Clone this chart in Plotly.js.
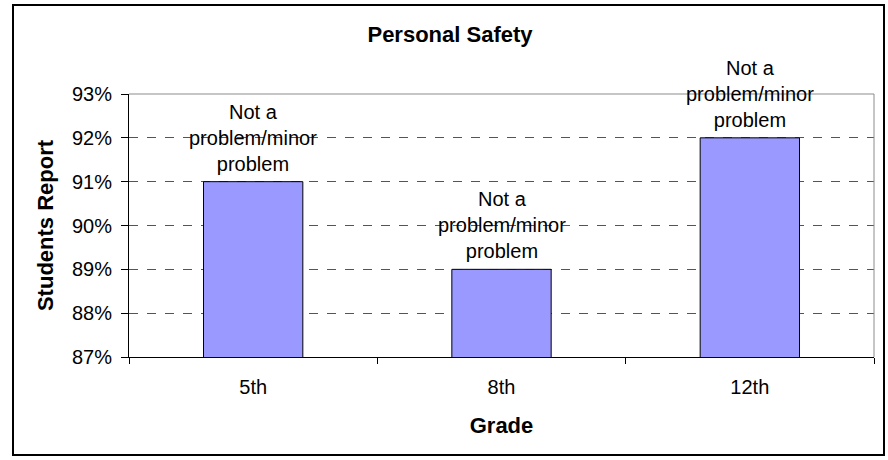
<!DOCTYPE html>
<html>
<head>
<meta charset="utf-8">
<script src="https://cdn.plot.ly/plotly-3.0.1.min.js"></script>
<style>html,body{margin:0;padding:0;background:#fff;}#chart{width:888px;height:460px;}</style>
</head>
<body>
<div id="chart"></div>
<script>
var grades = ["5th", "8th", "12th"];
var percents = [91, 89, 92];
var barLabels = ["Not a<br>problem/minor<br>problem", "Not a<br>problem/minor<br>problem", "Not a<br>problem/minor<br>problem"];
var chartTitle = "Personal Safety";
var xTitle = "Grade";
var yTitle = "Students Report";

var FONT = "Arial, 'Liberation Sans', sans-serif";

var trace = {
  type: "bar",
  x: grades,
  y: percents,
  marker: {color: "#9999FF", line: {color: "#000000", width: 1}},
  hoverinfo: "skip"
};

var annotations = grades.map(function (g, i) {
  return {
    x: g, y: percents[i], xref: "x", yref: "y",
    text: barLabels[i], showarrow: false,
    yanchor: "bottom", yshift: 5,
    font: {family: FONT, size: 20, color: "#000"}
  };
});

var layout = {
  width: 888, height: 460,
  margin: {l: 129, r: 14, t: 94, b: 103},
  paper_bgcolor: "#fff", plot_bgcolor: "#fff",
  showlegend: false,
  bargap: 0.6,
  font: {family: FONT, color: "#000"},
  title: {text: "<b>" + chartTitle + "</b>", font: {family: FONT, size: 22, color: "#000"},
          x: 450/888, xref: "container", xanchor: "center",
          y: 1 - 34/460, yref: "container", yanchor: "middle"},
  xaxis: {
    type: "category",
    title: {text: "<b>" + xTitle + "</b>", font: {family: FONT, size: 22, color: "#000"}, standoff: 20},
    tickfont: {family: FONT, size: 20, color: "#000"},
    ticklabelstandoff: 12,
    showline: true, linecolor: "#000", linewidth: 1,
    ticks: "outside", ticklen: 6, tickcolor: "#000", tickson: "boundaries",
    showgrid: false, zeroline: false, fixedrange: true
  },
  yaxis: {
    range: [87, 93], dtick: 1, tick0: 87, ticksuffix: "%",
    title: {text: "<b>" + yTitle + "</b>", font: {family: FONT, size: 22, color: "#000"}, standoff: 12},
    tickfont: {family: FONT, size: 20, color: "#000"},
    ticklabelstandoff: 5,
    showline: true, linecolor: "#000", linewidth: 1,
    ticks: "outside", ticklen: 7, tickcolor: "#000",
    showgrid: true, gridcolor: "#555", griddash: "dash", gridwidth: 1,
    zeroline: false, fixedrange: true
  },
  shapes: [
    {type: "line", xref: "paper", yref: "paper", x0: 0, x1: 1, y0: 1, y1: 1, line: {color: "#8c8c8c", width: 1}},
    {type: "line", xref: "paper", yref: "paper", x0: 1, x1: 1, y0: 0, y1: 1, line: {color: "#8c8c8c", width: 1}},
    {type: "rect", xref: "paper", yref: "paper",
     x0: (13 - 129) / 745, x1: (884 - 129) / 745,
     y0: (357 - 455) / 263, y1: (357 - 5) / 263,
     line: {color: "#000", width: 2}, fillcolor: "rgba(0,0,0,0)", layer: "below"}
  ],
  annotations: annotations
};

Plotly.newPlot("chart", [trace], layout, {displayModeBar: false, staticPlot: true});
</script>
</body>
</html>
